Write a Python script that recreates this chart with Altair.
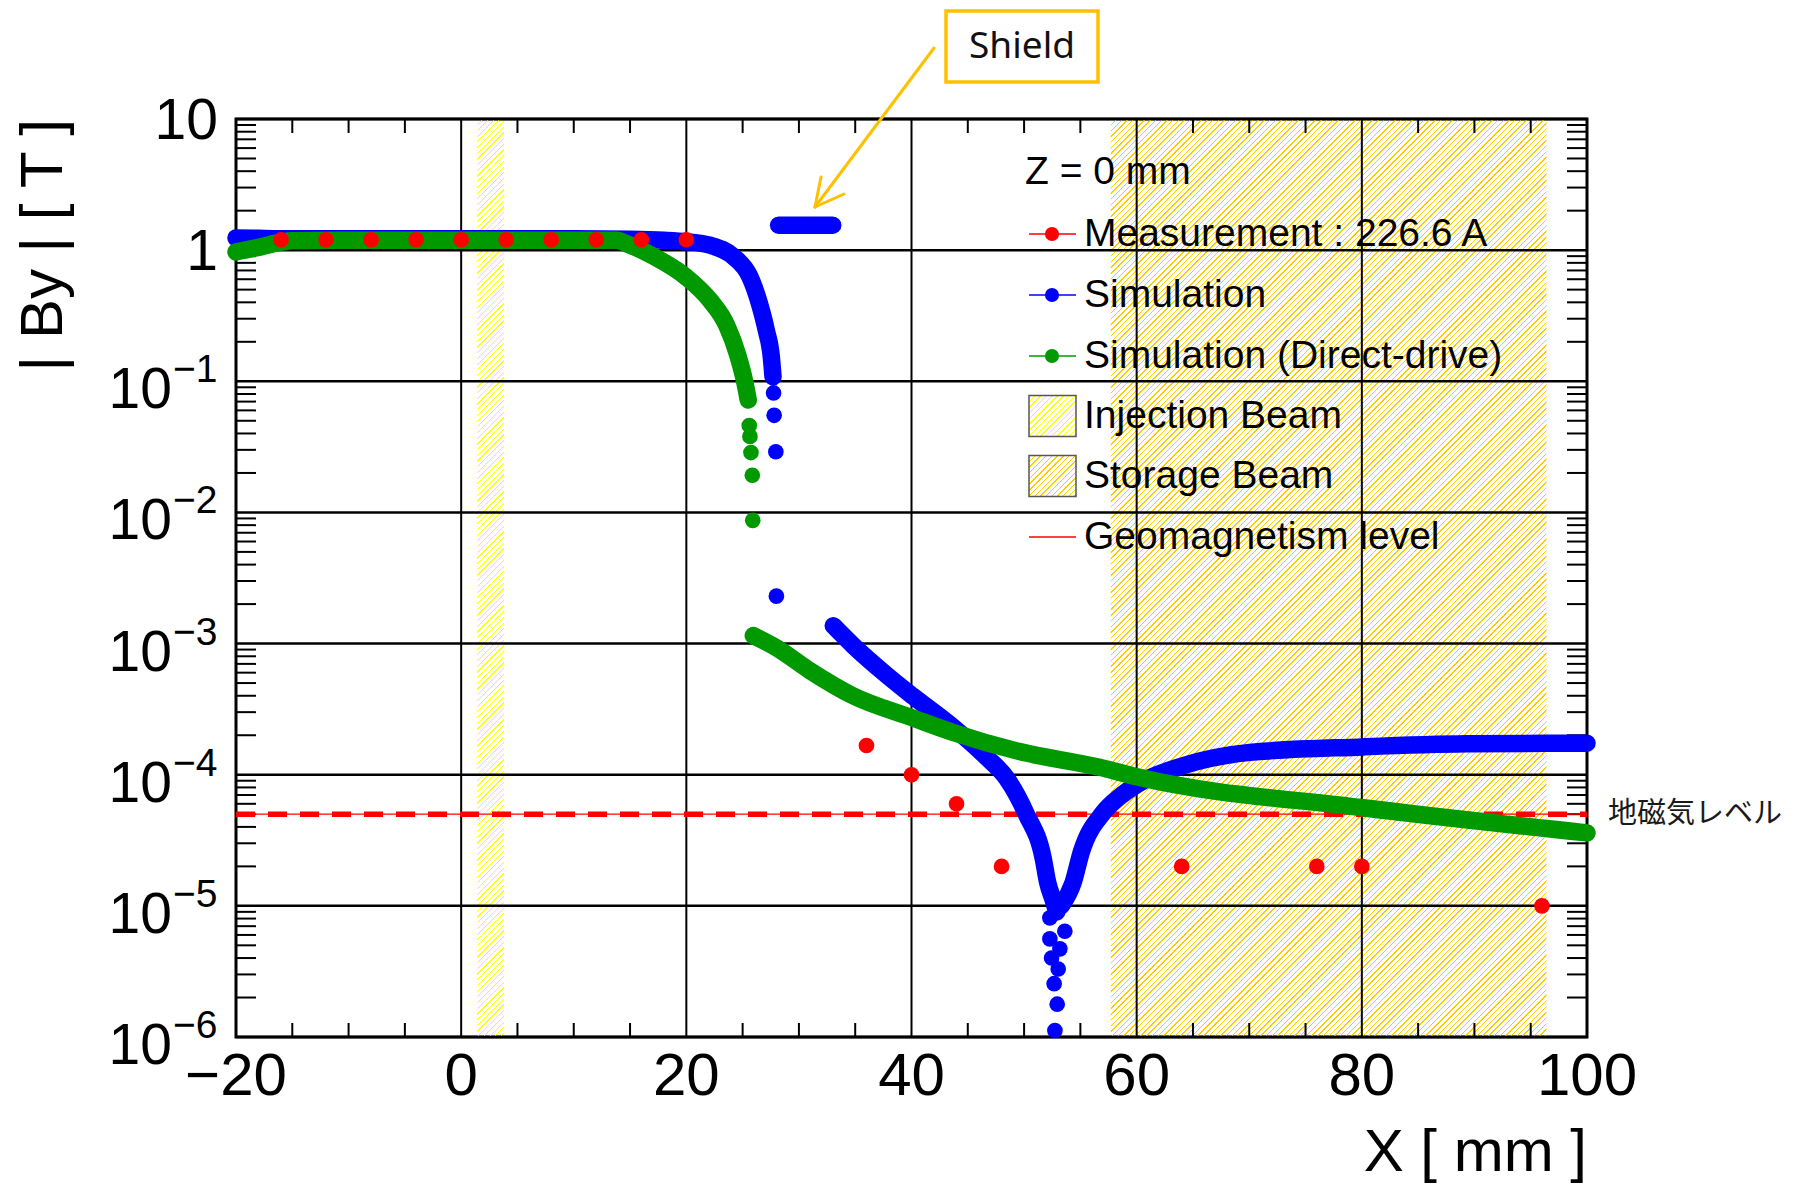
import altair as alt
import pandas as pd

# ---------------- values ----------------
# Measurement : 226.6 A
meas_x = [-16, -12, -8, -4, 0, 4, 8, 12, 16, 20, 36, 40, 44, 48, 64, 76, 80, 96]
meas_by = [1.2, 1.2, 1.2, 1.2, 1.2, 1.2, 1.2, 1.2, 1.2, 1.2,
           1.67e-4, 1.0e-4, 6.0e-5, 2.0e-5, 2.0e-5, 2.0e-5, 2.0e-5, 1.0e-5]

# Simulation (blue); run 0 = isolated dots, other runs = dense continuous stretches
sim_x = [-20.0, -18.0, -15.0, -10.0, -5.0, 0.0, 5.0, 10.0, 15.0, 18.0, 20.0, 22.1, 24.2,
         25.65, 26.5, 27.1, 27.55, 27.7,
         27.75, 27.8, 27.95, 28.0,
         28.2, 29.5, 31.0, 32.0, 33.0,
         33.05, 34.8, 37.8, 40.15, 43.7, 46.7, 48.45, 50.2, 51.7, 52.1, 52.6, 52.9,
         52.29, 53.62, 52.29, 53.18, 52.44, 53.03, 52.67, 52.94, 52.74,
         53.3, 54.35, 55.1, 57.0, 58.5, 60.1, 64.1, 70.05, 80.1, 89.3, 100.0]
sim_by = [1.24, 1.23, 1.22, 1.22, 1.22, 1.22, 1.22, 1.22, 1.21, 1.19, 1.16, 1.09, 0.89,
          0.625, 0.39, 0.245, 0.153, 0.108,
          0.0815, 0.055, 0.029, 0.0023,
          1.55, 1.55, 1.55, 1.55, 1.55,
          1.37e-3, 9.7e-4, 5.75e-4, 3.95e-4, 2.3e-4, 1.35e-4, 9.4e-5, 5.0e-5, 2.3e-5, 1.5e-5, 1.1e-5, 9.0e-6,
          8.1e-6, 6.4e-6, 5.6e-6, 4.7e-6, 4.0e-6, 3.3e-6, 2.55e-6, 1.78e-6, 1.12e-6,
          1.0e-5, 1.5e-5, 2.6e-5, 5.1e-5, 6.8e-5, 8.5e-5, 1.17e-4, 1.48e-4, 1.63e-4, 1.72e-4, 1.74e-4]
sim_run = [1] * 18 + [0] * 4 + [2] * 5 + [3] * 12 + [0] * 9 + [4] * 11

# Simulation (Direct-drive) (green)
dd_x = [-20.0, -18.0, -16.0, -15.0, -10.0, -5.0, 0.0, 5.0, 10.0, 13.8, 14.7, 17.06, 20.0,
        22.1, 23.6, 24.55, 25.2, 25.5,
        25.59, 25.65, 25.74, 25.86, 25.9,
        25.95, 28.0, 31.0, 34.8, 40.15, 43.7, 49.6, 56.7, 60.1, 80.1, 100.0]
dd_by = [0.97, 1.05, 1.15, 1.18, 1.19, 1.19, 1.19, 1.19, 1.19, 1.19, 1.12, 0.90, 0.622,
         0.415, 0.265, 0.16, 0.098, 0.072,
         0.046, 0.038, 0.0286, 0.0192, 0.0087,
         1.15e-3, 9.3e-4, 6.2e-4, 4.0e-4, 2.7e-4, 2.1e-4, 1.5e-4, 1.14e-4, 9.6e-5, 5.6e-5, 3.6e-5]
dd_run = [1] * 18 + [0] * 5 + [2] * 11

geomag_level = [5e-5]
inj_band = [1.4, 3.8]        # Injection Beam x-range [mm]
stor_band = [57.7, 96.4]     # Storage Beam x-range [mm]

x_major = [-20, 0, 20, 40, 60, 80, 100]
x_major_lbl = ["\u221220", "0", "20", "40", "60", "80", "100"]
x_minor = [-15, -10, -5, 5, 10, 15, 25, 30, 35, 45, 50, 55, 65, 70, 75, 85, 90, 95]
decades = [10, 1, 1e-1, 1e-2, 1e-3, 1e-4, 1e-5, 1e-6]
y_plain_lbl = ["10", "1"]
y_exp_lbl = ["\u22121", "\u22122", "\u22123", "\u22124", "\u22125", "\u22126"]
y_minor = [m * 10.0 ** k for k in range(-6, 1) for m in range(2, 10)]

legend_header = "Z = 0 mm"
legend_labels = ["Measurement : 226.6 A", "Simulation", "Simulation (Direct-drive)",
                 "Injection Beam", "Storage Beam", "Geomagnetism level"]

# ---------------- styles / layout ----------------
PLOT_W, PLOT_H = 1351, 918
PX_PER_MM = PLOT_W / 120.0
RED, BLUE, GREEN = "#ff0000", "#0000ff", "#009900"
ORANGE = "#ffc000"
FONT = "Liberation Sans, Arial, Helvetica, sans-serif"
DOT = 245
LW = 17.5

xs = alt.Scale(domain=[-20, 100], nice=False, zero=False)
ys = alt.Scale(type="log", domain=[1e-6, 10], nice=False)


def X(field="x"):
    return alt.X(f"{field}:Q", scale=xs, axis=None, title=None)


def Y(field="by"):
    return alt.Y(f"{field}:Q", scale=ys, axis=None, title=None)


def hatch(color, w, h, spacing=5.7, line=1.4):
    """'/' hatching as a hard-stop linear gradient over a box of w x h pixels."""
    L = w + h
    c = L / (w * w + h * h)
    stops = []
    i = 0
    clear = "rgba(255,255,255,0)"
    while i * spacing < L:
        t0 = i * spacing / L
        t1 = min((i * spacing + line) / L, 1.0)
        t2 = min((i + 1) * spacing / L, 1.0)
        stops += [alt.GradientStop(offset=t0, color=color), alt.GradientStop(offset=t1, color=color),
                  alt.GradientStop(offset=t1, color=clear), alt.GradientStop(offset=t2, color=clear)]
        i += 1
    return alt.LinearGradient(gradient="linear", stops=stops, x1=0, y1=0, x2=w * c, y2=h * c)


one = pd.DataFrame({"k": [0]})
sim = pd.DataFrame({"x": sim_x, "by": sim_by, "run": sim_run})
dd = pd.DataFrame({"x": dd_x, "by": dd_by, "run": dd_run})
meas = pd.DataFrame({"x": meas_x, "by": meas_by})
geo = pd.DataFrame({"by": geomag_level})

# hatched bands
inj_w = (inj_band[1] - inj_band[0]) * PX_PER_MM
stor_w = (stor_band[1] - stor_band[0]) * PX_PER_MM
inj = alt.Chart(pd.DataFrame({"x0": [inj_band[0]], "x1": [inj_band[1]]})).mark_rect(
    fill=hatch("#ffff00", inj_w, PLOT_H, 5.7, 1.2), strokeWidth=0
).encode(x=X("x0"), x2="x1:Q", y=alt.value(0), y2=alt.value(PLOT_H))
stor = alt.Chart(pd.DataFrame({"x0": [stor_band[0]], "x1": [stor_band[1]]})).mark_rect(
    fill=hatch("#ffcc00", stor_w, PLOT_H), strokeWidth=0
).encode(x=X("x0"), x2="x1:Q", y=alt.value(0), y2=alt.value(PLOT_H))

# grid lines, ticks and tick labels
xg = pd.DataFrame({"x": x_major, "t": x_major_lbl})
yg = pd.DataFrame({"v": decades})
xgrid = alt.Chart(xg).mark_rule(color="black", strokeWidth=2).encode(
    x=X(), y=alt.value(0), y2=alt.value(PLOT_H))
ygrid = alt.Chart(yg).mark_rule(color="black", strokeWidth=2.5).encode(
    y=Y("v"), x=alt.value(0), x2=alt.value(PLOT_W))
xm = pd.DataFrame({"x": x_minor})
ym = pd.DataFrame({"v": y_minor})
tick_style = dict(color="black", strokeWidth=2)
xt_bot = alt.Chart(xm).mark_rule(**tick_style).encode(x=X(), y=alt.value(PLOT_H), y2=alt.value(PLOT_H - 14))
xt_top = alt.Chart(xm).mark_rule(**tick_style).encode(x=X(), y=alt.value(0), y2=alt.value(14))
yt_l = alt.Chart(ym).mark_rule(**tick_style).encode(y=Y("v"), x=alt.value(0), x2=alt.value(20))
yt_r = alt.Chart(ym).mark_rule(**tick_style).encode(y=Y("v"), x=alt.value(PLOT_W - 20), x2=alt.value(PLOT_W))

xlab = alt.Chart(xg).mark_text(align="center", baseline="top", font=FONT, fontSize=60,
                               color="black").encode(x=X(), y=alt.value(PLOT_H + 11), text="t:N")
plain = pd.DataFrame({"v": decades[:2], "t": y_plain_lbl})
expo = pd.DataFrame({"v": decades[2:], "t": y_exp_lbl})
ylab_plain = alt.Chart(plain).mark_text(align="right", baseline="middle", dy=3, font=FONT,
                                        fontSize=57, color="black").encode(
    y=Y("v"), x=alt.value(-18), text="t:N")
ylab_base = alt.Chart(expo).mark_text(align="right", baseline="alphabetic", dy=27, font=FONT,
                                       fontSize=57, color="black", text="10").encode(
    y=Y("v"), x=alt.value(-64))
ylab_exp = alt.Chart(expo).mark_text(align="left", baseline="alphabetic", dy=1, font=FONT,
                                      fontSize=39, color="black").encode(
    y=Y("v"), x=alt.value(-63), text="t:N")

# geomagnetism level
geo_thin = alt.Chart(geo).mark_rule(color=RED, strokeWidth=1.3).encode(
    y=Y(), x=alt.value(0), x2=alt.value(PLOT_W))
geo_dash = alt.Chart(geo).mark_rule(color=RED, strokeWidth=5.5, strokeDash=[19, 13]).encode(
    y=Y(), x=alt.value(0), x2=alt.value(PLOT_W))
geo_lbl = alt.Chart(geo).mark_text(text="地磁気レベル", align="left", baseline="middle",
                                   font="Noto Sans CJK JP", fontSize=29, color="#1a1a1a").encode(
    y=Y(), x=alt.value(PLOT_W + 21))

# data series
line_kw = dict(strokeWidth=LW, strokeCap="round", strokeJoin="round", interpolate="monotone")
blue_line = alt.Chart(sim).transform_filter("datum.run > 0").mark_line(color=BLUE, **line_kw).encode(
    x=X(), y=Y(), detail="run:N")
blue_pts = alt.Chart(sim).mark_circle(color=BLUE, size=DOT, opacity=1).encode(x=X(), y=Y())
green_line = alt.Chart(dd).transform_filter("datum.run > 0").mark_line(color=GREEN, **line_kw).encode(
    x=X(), y=Y(), detail="run:N")
green_pts = alt.Chart(dd).mark_circle(color=GREEN, size=DOT, opacity=1).encode(x=X(), y=Y())
red_pts = alt.Chart(meas).mark_circle(color=RED, size=DOT, opacity=1).encode(x=X(), y=Y())

# legend (inside the frame, no border)
rows = [115, 176, 237, 297, 357, 418]
SX0, SX1, SXC, TX = 793, 840, 816, 848
leg_txt = pd.DataFrame({"t": legend_labels, "py": rows})
legend_text = alt.Chart(leg_txt).mark_text(align="left", baseline="middle", font=FONT, fontSize=39,
                                           color="black").encode(
    x=alt.value(TX), y=alt.Y("py:Q", scale=None, axis=None), text="t:N")
legend_head = alt.Chart(one).mark_text(text=legend_header, align="left", baseline="middle", font=FONT,
                                       fontSize=39, color="black").encode(x=alt.value(789), y=alt.value(53))
leg_marks = []
for yy, col in zip(rows[:3], [RED, BLUE, GREEN]):
    leg_marks.append(alt.Chart(one).mark_rule(color=col, strokeWidth=1.6).encode(
        x=alt.value(SX0), x2=alt.value(SX1), y=alt.value(yy)))
    leg_marks.append(alt.Chart(one).mark_circle(color=col, size=200, opacity=1).encode(
        x=alt.value(SXC), y=alt.value(yy)))
for yy, col in zip(rows[3:5], ["#ffff00", "#ffcc00"]):
    leg_marks.append(alt.Chart(one).mark_rect(fill=hatch(col, SX1 - SX0, 41, 5.7, 1.4),
                                              stroke="#555555", strokeWidth=1.5).encode(
        x=alt.value(SX0), x2=alt.value(SX1), y=alt.value(yy - 20.5), y2=alt.value(yy + 20.5)))
leg_marks.append(alt.Chart(one).mark_rule(color=RED, strokeWidth=1.6).encode(
    x=alt.value(SX0), x2=alt.value(SX1), y=alt.value(rows[5])))

# axis titles
xtitle = alt.Chart(one).mark_text(text="X [ mm ]", align="right", baseline="alphabetic", font=FONT,
                                  fontSize=60, color="black").encode(x=alt.value(PLOT_W), y=alt.value(1052))
ytitle = alt.Chart(one).mark_text(text="| By | [ T ]", align="right", baseline="alphabetic", angle=270,
                                  font=FONT, fontSize=60, color="black").encode(
    x=alt.value(-174), y=alt.value(0))

# "Shield" annotation
shield_box = alt.Chart(one).mark_rect(fill="white", stroke=ORANGE, strokeWidth=3.5).encode(
    x=alt.value(710), x2=alt.value(862), y=alt.value(-108), y2=alt.value(-37))
shield_txt = alt.Chart(one).mark_text(text="Shield", align="center", baseline="middle",
                                      font="Noto Sans, Liberation Sans, sans-serif", fontSize=37,
                                      color="#111111").encode(x=alt.value(786), y=alt.value(-72))
arrow_kw = dict(color=ORANGE, strokeWidth=3, strokeCap="round")
arrow = [
    alt.Chart(one).mark_rule(**arrow_kw).encode(x=alt.value(698), y=alt.value(-71), x2=alt.value(579), y2=alt.value(88)),
    alt.Chart(one).mark_rule(**arrow_kw).encode(x=alt.value(585), y=alt.value(58), x2=alt.value(579), y2=alt.value(88)),
    alt.Chart(one).mark_rule(**arrow_kw).encode(x=alt.value(608), y=alt.value(75), x2=alt.value(579), y2=alt.value(88)),
]

chart = alt.layer(
    inj, stor, xgrid, ygrid, xt_bot, xt_top, yt_l, yt_r,
    xlab, ylab_plain, ylab_base, ylab_exp,
    geo_thin, geo_dash, geo_lbl,
    blue_line, blue_pts, green_line, green_pts, red_pts,
    legend_head, legend_text, *leg_marks,
    xtitle, ytitle, shield_box, shield_txt, *arrow,
).properties(
    width=PLOT_W, height=PLOT_H,
    padding={"left": 228, "top": 111, "right": 198, "bottom": 146},
    autosize=alt.AutoSizeParams(type="none"),
).configure_view(stroke="black", strokeWidth=3)

chart.save("out.html", embed_options={"renderer": "svg", "actions": False})
